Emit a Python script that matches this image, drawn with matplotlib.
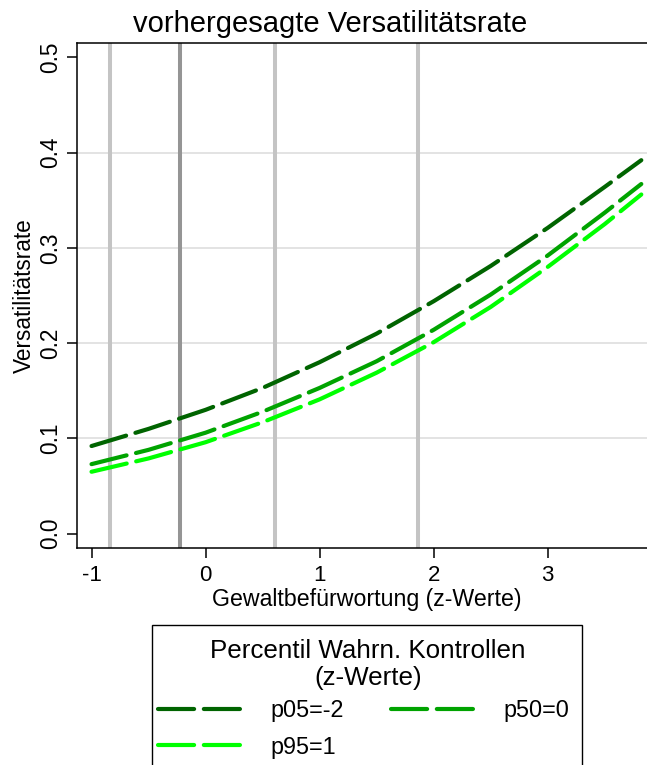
import numpy as np
import matplotlib
matplotlib.use("Agg")
import matplotlib.pyplot as plt
from matplotlib.patches import Rectangle

plt.rcParams["font.family"] = ["Liberation Sans", "DejaVu Sans"]
plt.rcParams["lines.scale_dashes"] = False

# predicted rates
x_vals = [-1.0, -0.5, 0.0, 0.5, 1.0, 1.5, 2.0, 2.5, 3.0, 3.5, 3.82]
rate_p05 = [0.092, 0.110, 0.130, 0.153, 0.180, 0.210, 0.244, 0.281, 0.321, 0.364, 0.392]
rate_p50 = [0.073, 0.088, 0.106, 0.128, 0.153, 0.181, 0.214, 0.251, 0.292, 0.337, 0.367]
rate_p95 = [0.065, 0.079, 0.096, 0.117, 0.141, 0.169, 0.201, 0.238, 0.280, 0.325, 0.356]

series_labels = ["p05=-2", "p50=0", "p95=1"]
series_colors = ["#006400", "#00a300", "#00ff00"]

# reference lines (percentiles of Gewaltbefuerwortung)
vline_x = [-0.84, -0.22, 0.61, 1.86]
vline_colors = ["#c4c4c4", "#959595", "#c4c4c4", "#c4c4c4"]

x_ticks = [-1, 0, 1, 2, 3]
y_ticks = [0.0, 0.1, 0.2, 0.3, 0.4, 0.5]
grid_y = [0.1, 0.2, 0.3, 0.4]

W, H = 647, 765
fig = plt.figure(figsize=(W / 100, H / 100), dpi=100)
ax = fig.add_axes([76.7 / W, 1 - 547.7 / H, 1 - 76.7 / W, (547.7 - 42.7) / H])

for gy in grid_y:
    ax.axhline(gy, color="#dedede", lw=1.2, zorder=1)

for vx, vc in zip(vline_x, vline_colors):
    ax.axvline(vx, color=vc, lw=2.9, zorder=2)

handles = []
for ys, lab, col in zip([rate_p05, rate_p50, rate_p95], series_labels, series_colors):
    ln, = ax.plot(x_vals, ys, color=col, lw=3.0, label=lab,
                  dash_capstyle="round", solid_capstyle="round", zorder=3)
    ln.set_dashes((26, 7))
    handles.append(ln)

ax.set_xlim(-1.13, 3.87)
ax.set_ylim(-0.0147, 0.5153)
ax.set_xticks(x_ticks)
ax.set_xticklabels([str(t) for t in x_ticks], fontsize=16)
ax.set_yticks(y_ticks)
ax.set_yticklabels(["%.1f" % t for t in y_ticks], rotation=90, va="center", fontsize=16.3)

ax.spines["right"].set_visible(False)
for s in ["left", "bottom", "top"]:
    ax.spines[s].set_linewidth(1.1)
ax.tick_params(axis="both", length=7.2, width=1.1)
ax.tick_params(axis="x", pad=5)
ax.tick_params(axis="y", pad=3)

ax.set_xlabel("Gewaltbefürwortung (z-Werte)", fontsize=16.7)
ax.xaxis.set_label_coords(0.509, -0.08)
ax.set_ylabel("Versatilitätsrate", fontsize=16.3)
ax.yaxis.set_label_coords(-0.071, 0.5)

fig.text(330 / W, 1 - 32 / H, "vorhergesagte Versatilitätsrate",
         ha="center", va="baseline", fontsize=21)

# legend box (runs past the bottom edge, as in the reference)
fig.patches.append(Rectangle((151.7 / W, -0.05), (581.7 - 151.7) / W, 0.05 + 1 - 625 / H,
                             transform=fig.transFigure, fill=False,
                             edgecolor="black", lw=1.0))
fig.text(368 / W, 1 - 658 / H, "Percentil Wahrn. Kontrollen",
         ha="center", va="baseline", fontsize=18.7)
fig.text(368 / W, 1 - 685 / H, "(z-Werte)",
         ha="center", va="baseline", fontsize=18.7)

# row order as in the reference: p05 | p50 on top, p95 below
order = [0, 2, 1]
leg = fig.legend(handles=[handles[i] for i in order],
                 labels=[series_labels[i] for i in order], ncol=2,
                 loc="upper left", bbox_to_anchor=(158 / W, 1 - 699 / H),
                 fontsize=16.8, frameon=False, borderpad=0,
                 handlelength=3.85, handletextpad=0.95, columnspacing=2.06,
                 labelspacing=0.58, borderaxespad=0)

fig.savefig("out.png", dpi=100)
print("Chart saved")
